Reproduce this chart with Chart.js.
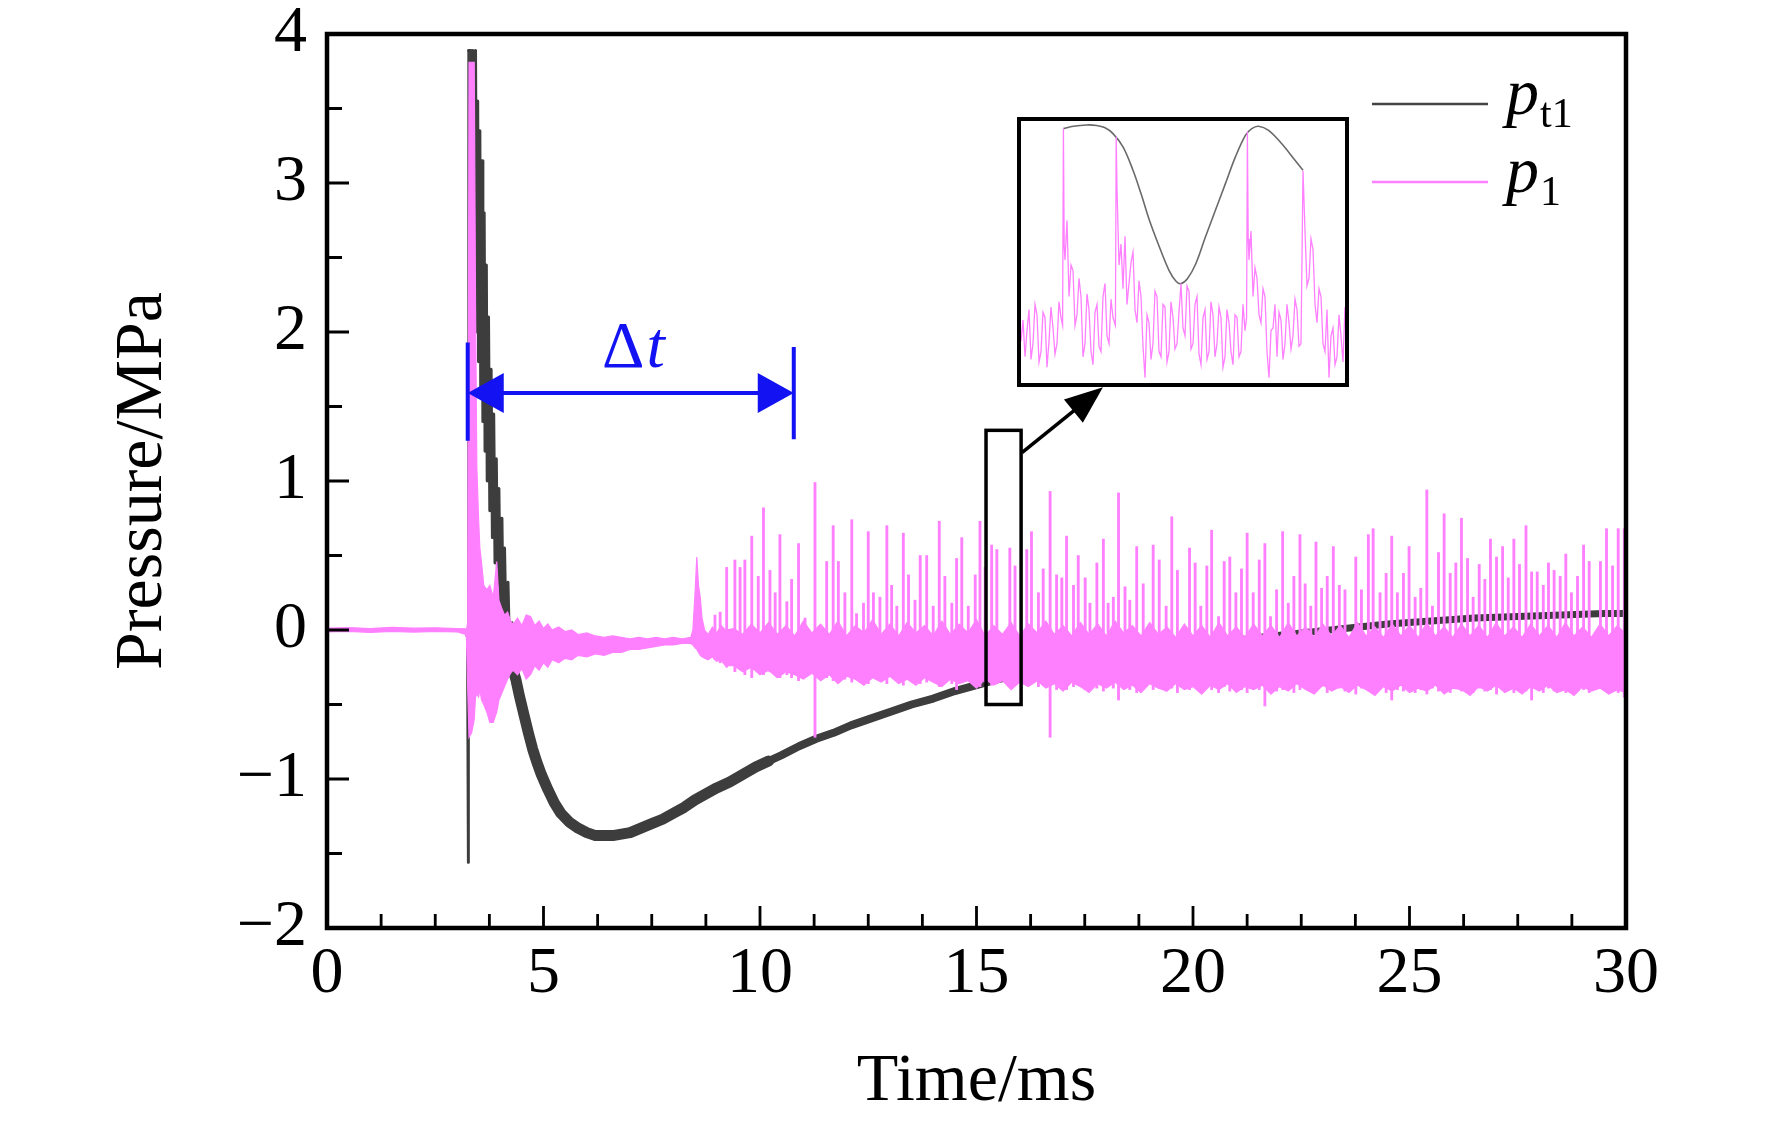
<!DOCTYPE html>
<html>
<head>
<meta charset="utf-8">
<title>Pressure vs time</title>
<script src="https://cdn.jsdelivr.net/npm/chart.js@4.4.1/dist/chart.umd.min.js"></script>
<style>
  html, body { margin: 0; padding: 0; background: #fff; }
  #wrap { position: relative; width: 1772px; height: 1125px; }
  #main { position: absolute; left: 0; top: 0; width: 1772px; height: 1125px; }
  #inset { position: absolute; left: 1017px; top: 117px; width: 332px; height: 270px; }
</style>
</head>
<body>
<div id="wrap">
  <canvas id="main" width="1772" height="1125"></canvas>
  <canvas id="inset" width="332" height="270"></canvas>
</div>
<script>
const xTicks = [0, 5, 10, 15, 20, 25, 30];
const yTicks = [-2, -1, 0, 1, 2, 3, 4];

// p_t1 (black trace)
const pt1Time = [
  0, 1.5, 3, 3.2, 3.24, 3.26, 3.27, 3.32, 3.34, 3.37,
  3.4, 3.43, 3.46, 3.48, 3.5, 3.53, 3.55, 3.58, 3.6, 3.63,
  3.65, 3.68, 3.7, 3.73, 3.76, 3.79, 3.82, 3.85, 3.88, 3.91,
  3.94, 3.97, 4, 4.04, 4.07, 4.1, 4.14, 4.18, 4.22, 4.27,
  4.31, 4.36, 4.45, 4.55, 4.65, 4.75, 4.85, 4.95, 5.1, 5.25,
  5.4, 5.6, 5.8, 6, 6.2, 6.4, 6.6, 6.8, 7, 7.25,
  7.5, 7.75, 8, 8.25, 8.5, 8.75, 9, 9.3, 9.6, 9.9,
  10.2, 10.5, 10.9, 11.3, 11.7, 12.1, 12.5, 13, 13.5, 14,
  14.5, 15, 15.5, 16, 16.5, 17, 18, 19, 19.5, 20.5,
  21.5, 22.5, 23.5, 24.5, 25.5, 26.5, 27.5, 28.5, 29.5, 30
];
const pt1Value = [
  0, 0, 0, -0.01, -0.05, -1.56, 3.89, 3.89, 2.3, 3.89,
  2.2, 3.89, 2.0, 3.55, 1.8, 3.35, 1.6, 3.15, 1.4, 2.8,
  1.2, 2.45, 1.0, 2.1, 0.8, 1.75, 0.62, 1.45, 0.45, 1.15,
  0.3, 0.95, 0.15, 0.75, 0, 0.55, -0.1, 0.32, -0.2, 0.05,
  -0.28, -0.33, -0.45, -0.57, -0.69, -0.8, -0.89, -0.97, -1.07, -1.16,
  -1.23, -1.29, -1.33, -1.36, -1.38, -1.38, -1.38, -1.37, -1.36, -1.33,
  -1.3, -1.27, -1.23, -1.19, -1.14, -1.1, -1.06, -1.02, -0.97, -0.92,
  -0.88, -0.84, -0.78, -0.73, -0.69, -0.64, -0.6, -0.55, -0.5, -0.46,
  -0.41, -0.37, -0.33, -0.3, -0.28, -0.25, -0.2, -0.15, -0.13, -0.09,
  -0.05, -0.02, 0.01, 0.04, 0.06, 0.08, 0.09, 0.1, 0.11, 0.11
];

// p_1 (pink trace): upper and lower edge of the noise band
const p1Time = [
  0, 0.5, 1, 1.5, 2, 2.5, 3, 3.2,
  3.22, 3.25, 3.28, 3.34, 3.4, 3.43, 3.46, 3.5, 3.53, 3.57, 3.62, 3.69, 3.76, 3.84, 3.92, 3.97, 4.03, 4.1, 4.17, 4.24, 4.3,
  4.4, 4.5, 4.6, 4.7, 4.8, 4.9, 5, 5.1, 5.2, 5.35, 5.5, 5.65, 5.8, 6, 6.2, 6.4, 6.6, 6.8, 7, 7.2, 7.4, 7.6, 7.8, 8, 8.2, 8.4,
  8.45, 8.5, 8.54, 8.58, 8.62, 8.66, 8.72, 8.8, 8.9, 9, 9.1, 9.2,
  9.4, 9.6, 9.8, 10, 10.2, 10.4, 10.6, 10.8, 11, 11.2,
  11.4, 11.6, 11.8, 12, 12.2, 12.4, 12.6, 12.8, 13, 13.2,
  13.4, 13.6, 13.8, 14, 14.2, 14.4, 14.6, 14.8, 15, 15.2,
  15.4, 15.6, 15.8, 16, 16.2, 16.4, 16.6, 16.8, 17, 17.2,
  17.4, 17.6, 17.8, 18, 18.2, 18.4, 18.6, 18.8, 19, 19.2,
  19.4, 19.6, 19.8, 20, 20.2, 20.4, 20.6, 20.8, 21, 21.2,
  21.4, 21.6, 21.8, 22, 22.2, 22.4, 22.6, 22.8, 23, 23.2,
  23.4, 23.6, 23.8, 24, 24.2, 24.4, 24.6, 24.8, 25, 25.2,
  25.4, 25.6, 25.8, 26, 26.2, 26.4, 26.6, 26.8, 27, 27.2,
  27.4, 27.6, 27.8, 28, 28.2, 28.4, 28.6, 28.8, 29, 29.2,
  29.4, 29.6, 29.8, 30
];
const p1High = [
  0.012, 0.016, 0.01, 0.018, 0.012, 0.015, 0.01, 0.008,
  0, 0.05, 3.81, 3.81, 3.81, 2.2, 1.1, 0.75, 0.55, 0.45, 0.3, 0.27, 0.3, 0.22, 0.46, 0.2, 0.15, 0.1, 0.12, 0.06, 0.04,
  0.08, 0.03, 0.1, 0.09, 0.03, 0.06, 0.01, 0.04, 0, 0.02, -0.01, 0, -0.03, -0.02, -0.04, -0.05, -0.04, -0.05, -0.06, -0.05, -0.06, -0.05, -0.06, -0.05, -0.06, -0.05,
  0, 0.25, 0.49, 0.3, 0.22, 0.08, 0, -0.03, 0.02, -0.02, 0.03, 0,
  0.01, -0.03, 0.04, -0.02, 0.05, -0.03, 0.03, -0.04, 0.06, -0.02,
  0.04, -0.03, 0.06, -0.04, 0.03, -0.02, 0.07, -0.03, 0.04, -0.04,
  0.05, -0.02, 0.03, -0.04, 0.06, -0.03, 0.04, -0.02, 0.07, -0.04,
  0.03, -0.03, 0.05, -0.04, 0.04, -0.02, 0.06, -0.03, 0.03, -0.04,
  0.05, -0.03, 0.04, -0.04, 0.06, -0.02, 0.03, -0.04, 0.05, -0.03,
  0.02, -0.05, 0.04, -0.04, 0.03, -0.05, 0.05, -0.04, 0.02, -0.05,
  0.04, -0.04, 0.03, -0.05, 0.05, -0.04, 0.02, -0.05, 0.04, -0.04,
  0.03, -0.05, 0.05, -0.04, 0.02, -0.05, 0.04, -0.04, 0.03, -0.05,
  0.05, -0.04, 0.02, -0.05, 0.04, -0.04, 0.03, -0.05, 0.05, -0.04,
  0.02, -0.05, 0.04, -0.04, 0.03, -0.05, 0.05, -0.04, 0.02, -0.05,
  0.04, -0.04, 0.03, -0.03
];
const p1Low = [
  -0.012, -0.01, -0.016, -0.01, -0.014, -0.01, -0.012, -0.03,
  -0.05, -0.4, -0.72, -0.69, -0.6, -0.45, -0.43, -0.45, -0.4, -0.47, -0.5, -0.55, -0.62, -0.62, -0.55, -0.47, -0.43, -0.38, -0.33, -0.29, -0.27,
  -0.3, -0.26, -0.33, -0.3, -0.24, -0.27, -0.22, -0.25, -0.2, -0.22, -0.19, -0.2, -0.17, -0.18, -0.16, -0.17, -0.15, -0.15, -0.13, -0.13, -0.12, -0.11, -0.1, -0.1, -0.09, -0.09,
  -0.1, -0.12, -0.13, -0.15, -0.17, -0.18, -0.19, -0.2, -0.18, -0.21, -0.2, -0.24,
  -0.24, -0.28, -0.25, -0.3, -0.27, -0.32, -0.28, -0.3, -0.33, -0.29,
  -0.34, -0.3, -0.36, -0.31, -0.33, -0.37, -0.32, -0.35, -0.31, -0.36,
  -0.33, -0.37, -0.32, -0.35, -0.38, -0.33, -0.36, -0.34, -0.39, -0.33,
  -0.37, -0.34, -0.4, -0.35, -0.38, -0.34, -0.39, -0.36, -0.41, -0.35,
  -0.38, -0.42, -0.36, -0.39, -0.35, -0.4, -0.37, -0.42, -0.36, -0.39,
  -0.41, -0.36, -0.4, -0.38, -0.43, -0.37, -0.4, -0.36, -0.42, -0.38,
  -0.4, -0.37, -0.43, -0.38, -0.41, -0.36, -0.4, -0.43, -0.37, -0.41,
  -0.38, -0.42, -0.37, -0.4, -0.44, -0.38, -0.41, -0.37, -0.42, -0.39,
  -0.41, -0.37, -0.43, -0.39, -0.4, -0.44, -0.38, -0.41, -0.37, -0.42,
  -0.39, -0.43, -0.38, -0.41, -0.37, -0.42, -0.4, -0.44, -0.38, -0.41,
  -0.39, -0.43, -0.4, -0.42
];

// p_1 spikes: time, peak and trough of each burst
const spikeTime = [
  8.96, 9.08, 9.23, 9.42, 9.54, 9.65, 9.81, 9.96, 10.08, 10.23, 10.35, 10.46, 10.62, 10.73, 10.89, 11.04,
  11.27, 11.54, 11.69, 11.81, 11.96, 12.12, 12.23, 12.39, 12.5, 12.62, 12.77, 12.93, 13.04, 13.16,
  13.31, 13.43, 13.58, 13.7, 13.85, 14, 14.14, 14.27, 14.43, 14.54, 14.66, 14.81, 14.97, 15.08, 15.2,
  15.35, 15.47, 15.77, 15.89, 16.16, 16.27, 16.43, 16.54, 16.7, 16.85, 16.97, 17.08,
  17.24, 17.35, 17.51, 17.62, 17.78, 17.93, 18.04, 18.16, 18.28, 18.43, 18.54, 18.7, 18.85,
  19.08, 19.22, 19.38, 19.51, 19.64, 19.92, 20.05, 20.18, 20.32, 20.43, 20.59, 20.72, 20.85,
  20.99, 21.12, 21.25, 21.39, 21.53, 21.66, 21.79, 21.93, 22.07, 22.2, 22.33, 22.47, 22.59, 22.72,
  22.84, 22.97, 23.1, 23.24, 23.38, 23.51, 23.76, 23.89, 24.05, 24.16, 24.32, 24.46, 24.59,
  24.72, 24.86, 24.99, 25.13, 25.26, 25.4, 25.53, 25.67, 25.8, 25.94, 26.07, 26.2, 26.34,
  26.47, 26.61, 26.74, 26.87, 27.01, 27.15, 27.28, 27.41, 27.54, 27.69, 27.82, 27.95, 28.09,
  28.21, 28.34, 28.48, 28.61, 28.74, 28.88, 29.02, 29.15, 29.41, 29.55, 29.69, 29.82, 29.96
];
const spikeTop = [
  0.1, 0.12, 0.42, 0.47, 0.42, 0.47, 0.63, 0.36, 0.82, 0.4, 0.25, 0.64, 0.19, 0.34, 0.58, 0.08,
  0.99, 0.46, 0.7, 0.46, 0.25, 0.74, 0.11, 0.18, 0.66, 0.25, 0.22, 0.7, 0.3, 0.16,
  0.65, 0.37, 0.2, 0.5, 0.5, 0.16, 0.73, 0.36, 0.18, 0.48, 0.62, 0.16, 0.37, 0.73, 0.42,
  0.57, 0.54, 0.55, 0.43, 0.54, 0.66, 0.25, 0.41, 0.93, 0.37, 0.35, 0.63,
  0.3, 0.5, 0.35, 0.18, 0.45, 0.61, 0.18, 0.22, 0.92, 0.29, 0.2, 0.56, 0.31,
  0.57, 0.47, 0.16, 0.76, 0.4, 0.55, 0.45, 0.16, 0.43, 0.67, 0.09, 0.46, 0.49,
  0.25, 0.41, 0.65, 0.25, 0.47, 0.58, 0.09, 0.27, 0.66, 0.18, 0.36, 0.64, 0.31, 0.16,
  0.59, 0.28, 0.36, 0.56, 0.3, 0.27, 0.49, 0.27, 0.64, 0.68, 0.25, 0.38, 0.63,
  0.25, 0.38, 0.56, 0.22, 0.28, 0.94, 0.16, 0.52, 0.78, 0.38, 0.45, 0.75, 0.48,
  0.22, 0.44, 0.34, 0.61, 0.49, 0.56, 0.35, 0.61, 0.44, 0.7, 0.39, 0.39, 0.3,
  0.45, 0.4, 0.36, 0.51, 0.25, 0.36, 0.57, 0.46, 0.46, 0.68, 0.43, 0.68, 0.68
];
const spikeLow = [
  -0.2, -0.22, -0.25, -0.28, -0.25, -0.3, -0.32, -0.28, -0.3, -0.28, -0.3, -0.32, -0.3, -0.32, -0.34, -0.3,
  -0.72, -0.32, -0.34, -0.3, -0.33, -0.35, -0.3, -0.32, -0.36, -0.3, -0.34, -0.36, -0.31, -0.33,
  -0.37, -0.32, -0.34, -0.36, -0.35, -0.33, -0.38, -0.34, -0.36, -0.4, -0.35, -0.33, -0.36, -0.38, -0.35,
  -0.37, -0.36, -0.38, -0.36, -0.37, -0.35, -0.38, -0.36, -0.72, -0.4, -0.37, -0.4,
  -0.38, -0.36, -0.4, -0.37, -0.39, -0.41, -0.37, -0.39, -0.47, -0.38, -0.4, -0.42, -0.38,
  -0.4, -0.38, -0.41, -0.39, -0.42, -0.4, -0.38, -0.41, -0.39, -0.4, -0.42, -0.38, -0.41,
  -0.39, -0.4, -0.42, -0.38, -0.4, -0.51, -0.39, -0.41, -0.4, -0.38, -0.42, -0.4, -0.39, -0.41,
  -0.4, -0.38, -0.42, -0.4, -0.39, -0.41, -0.43, -0.39, -0.41, -0.4, -0.38, -0.42, -0.47,
  -0.4, -0.41, -0.39, -0.42, -0.4, -0.43, -0.39, -0.41, -0.4, -0.42, -0.39, -0.41, -0.4,
  -0.42, -0.39, -0.41, -0.4, -0.43, -0.4, -0.39, -0.42, -0.4, -0.41, -0.47, -0.4, -0.42,
  -0.39, -0.41, -0.4, -0.42, -0.39, -0.41, -0.4, -0.42, -0.39, -0.41, -0.4, -0.42, -0.45
];

// inset: magnified window 15.33-16.14 ms (relative units)
const insetP1Time = [
  15.33, 15.335, 15.34, 15.345, 15.35, 15.355, 15.36, 15.365, 15.37, 15.375,
  15.38, 15.385, 15.39, 15.395, 15.4, 15.405, 15.41, 15.415, 15.42, 15.425,
  15.43, 15.434, 15.436, 15.438, 15.44, 15.445, 15.45, 15.455, 15.46, 15.465,
  15.47, 15.475, 15.48, 15.485, 15.49, 15.495, 15.5, 15.505, 15.51, 15.515,
  15.52, 15.525, 15.53, 15.535, 15.54, 15.545, 15.55, 15.555, 15.56, 15.566,
  15.568, 15.57, 15.575, 15.58, 15.585, 15.59, 15.595, 15.6, 15.605, 15.61,
  15.615, 15.62, 15.625, 15.63, 15.635, 15.64, 15.645, 15.65, 15.655, 15.66,
  15.665, 15.67, 15.675, 15.68, 15.685, 15.69, 15.695, 15.7, 15.705, 15.71,
  15.715, 15.72, 15.725, 15.73, 15.735, 15.74, 15.745, 15.75, 15.755, 15.76,
  15.765, 15.77, 15.775, 15.78, 15.785, 15.79, 15.795, 15.8, 15.805, 15.81,
  15.815, 15.82, 15.825, 15.83, 15.835, 15.84, 15.845, 15.85, 15.855, 15.86,
  15.865, 15.87, 15.875, 15.88, 15.885, 15.89, 15.894, 15.896, 15.898, 15.9,
  15.905, 15.91, 15.915, 15.92, 15.925, 15.93, 15.935, 15.94, 15.945, 15.95,
  15.955, 15.96, 15.965, 15.97, 15.975, 15.98, 15.985, 15.99, 15.995, 16,
  16.005, 16.01, 16.015, 16.02, 16.025, 16.03, 16.035, 16.04, 16.045, 16.05,
  16.055, 16.06, 16.065, 16.07, 16.075, 16.08, 16.085, 16.09, 16.095, 16.1,
  16.105, 16.11, 16.115, 16.12, 16.125, 16.13, 16.135, 16.14
];
const insetP1 = [
  0.16, 0.24, 0.1, 0.2, 0.28, 0.09, 0.15, 0.3, 0.26, 0.08,
  0.12, 0.27, 0.25, 0.06, 0.16, 0.29, 0.21, 0.11, 0.15, 0.31,
  0.25, 0.22, 0.97, 0.52, 0.47, 0.62, 0.33, 0.45, 0.43, 0.22,
  0.26, 0.4, 0.33, 0.1, 0.15, 0.34, 0.28, 0.12, 0.07, 0.27,
  0.3, 0.14, 0.12, 0.33, 0.38, 0.18, 0.15, 0.32, 0.25, 0.22,
  0.94, 0.74, 0.45, 0.53, 0.36, 0.56, 0.3, 0.38, 0.46, 0.5,
  0.28, 0.23, 0.39, 0.33, 0.14, 0.02, 0.26, 0.23, 0.09, 0.15,
  0.35, 0.33, 0.12, 0.1, 0.3, 0.29, 0.08, 0.12, 0.31, 0.25,
  0.13, 0.15, 0.27, 0.38, 0.21, 0.18, 0.37, 0.35, 0.13, 0.15,
  0.3, 0.33, 0.11, 0.07, 0.25, 0.28, 0.09, 0.12, 0.31, 0.26,
  0.1, 0.15, 0.29, 0.25, 0.06, 0.1, 0.28, 0.23, 0.12, 0.07,
  0.26, 0.25, 0.1, 0.12, 0.3, 0.2, 0.25, 0.96, 0.55, 0.47,
  0.58, 0.33, 0.44, 0.4, 0.26, 0.23, 0.36, 0.33, 0.12, 0.02,
  0.2, 0.21, 0.3, 0.1, 0.27, 0.24, 0.09, 0.15, 0.3, 0.23,
  0.13, 0.18, 0.32, 0.28, 0.14, 0.15, 0.81, 0.58, 0.37, 0.4,
  0.55, 0.51, 0.3, 0.23, 0.36, 0.33, 0.15, 0.12, 0.28, 0.02,
  0.18, 0.21, 0.07, 0.1, 0.26, 0.18, 0.08, 0.29
];
const insetPt1Time = [
  15.436, 15.461, 15.494, 15.519, 15.539, 15.56, 15.585, 15.61, 15.63, 15.651, 15.676, 15.7, 15.717, 15.729,
  15.746, 15.767, 15.791, 15.816, 15.841, 15.866, 15.891, 15.907, 15.924, 15.949, 15.982, 16.015, 16.035
];
const insetPt1 = [
  0.971, 0.98, 0.985, 0.983, 0.975, 0.952, 0.901, 0.812, 0.723, 0.621, 0.519, 0.43, 0.389, 0.379,
  0.398, 0.455, 0.557, 0.659, 0.761, 0.863, 0.945, 0.971, 0.98, 0.964, 0.913, 0.85, 0.812
];

// annotation anchors, in data units
const deltaStart = 3.25, deltaEnd = 10.78, deltaArrowY = 1.59;
const deltaBarLeft = [1.27, 1.93], deltaBarRight = [1.28, 1.9];
const deltaLabelAt = [6.35, 1.765];
const zoomBox = { x0: 15.22, x1: 16.03, y0: -0.5, y1: 1.34 };
const zoomArrow = { x0: 16.05, y0: 1.19, x1: 17.92, y1: 1.63 };

const FONT = "'Liberation Serif', 'Times New Roman', serif";
const PINK = "#ff80ff";
const DARK = "#3d3d3d";
const BLUE = "#1212f2";

Chart.defaults.font.family = FONT;

const toPoints = (xs, ys) => xs.map((x, i) => ({ x: x, y: ys[i] }));

function arrowHead(ctx, tx, ty, fx, fy, len, half) {
  const a = Math.atan2(ty - fy, tx - fx);
  ctx.beginPath();
  ctx.moveTo(tx, ty);
  ctx.lineTo(tx - len * Math.cos(a) + half * Math.sin(a), ty - len * Math.sin(a) - half * Math.cos(a));
  ctx.lineTo(tx - len * Math.cos(a) - half * Math.sin(a), ty - len * Math.sin(a) + half * Math.cos(a));
  ctx.closePath();
  ctx.fill();
}

const frameAndNotes = {
  id: "frameAndNotes",
  afterDatasetsDraw(chart) {
    const { ctx, chartArea: a, scales: { x, y } } = chart;
    ctx.save();

    // inward ticks
    ctx.strokeStyle = "#000";
    ctx.lineWidth = 2.8;
    ctx.beginPath();
    for (let v = -2; v <= 4; v += 0.5) {
      const py = y.getPixelForValue(v);
      ctx.moveTo(a.left, py);
      ctx.lineTo(a.left + (Number.isInteger(v) ? 22 : 15), py);
    }
    for (let v = 0; v <= 30; v += 1.25) {
      const px = x.getPixelForValue(v);
      ctx.moveTo(px, a.bottom);
      ctx.lineTo(px, a.bottom - (v % 5 === 0 ? 22 : 14));
    }
    ctx.stroke();
    ctx.lineWidth = 4.5;
    ctx.strokeRect(a.left, a.top, a.right - a.left, a.bottom - a.top);

    // delta t marker
    ctx.strokeStyle = BLUE;
    ctx.fillStyle = BLUE;
    ctx.lineWidth = 4;
    const xs = x.getPixelForValue(deltaStart), xe = x.getPixelForValue(deltaEnd);
    const ya = y.getPixelForValue(deltaArrowY);
    ctx.beginPath();
    ctx.moveTo(xs, y.getPixelForValue(deltaBarLeft[0]));
    ctx.lineTo(xs, y.getPixelForValue(deltaBarLeft[1]));
    ctx.moveTo(xe, y.getPixelForValue(deltaBarRight[0]));
    ctx.lineTo(xe, y.getPixelForValue(deltaBarRight[1]));
    ctx.moveTo(xs + 20, ya);
    ctx.lineTo(xe - 20, ya);
    ctx.stroke();
    arrowHead(ctx, xs, ya, xe, ya, 36, 20);
    arrowHead(ctx, xe, ya, xs, ya, 36, 20);
    ctx.textBaseline = "alphabetic";
    ctx.textAlign = "left";
    const lx = x.getPixelForValue(deltaLabelAt[0]), ly = y.getPixelForValue(deltaLabelAt[1]);
    ctx.font = "66px " + FONT;
    ctx.fillText("\u0394", lx, ly);
    const dw = ctx.measureText("\u0394").width;
    ctx.font = "italic 66px " + FONT;
    ctx.fillText("t", lx + dw + 2, ly);

    // zoom window and arrow to inset
    ctx.strokeStyle = "#000";
    ctx.fillStyle = "#000";
    ctx.lineWidth = 3.5;
    const bx0 = x.getPixelForValue(zoomBox.x0), bx1 = x.getPixelForValue(zoomBox.x1);
    const by0 = y.getPixelForValue(zoomBox.y1), by1 = y.getPixelForValue(zoomBox.y0);
    ctx.strokeRect(bx0, by0, bx1 - bx0, by1 - by0);
    const ax0 = x.getPixelForValue(zoomArrow.x0), ay0 = y.getPixelForValue(zoomArrow.y0);
    const ax1 = x.getPixelForValue(zoomArrow.x1), ay1 = y.getPixelForValue(zoomArrow.y1);
    ctx.beginPath();
    ctx.moveTo(ax0, ay0);
    ctx.lineTo(ax1 - (ax1 - ax0) * 0.3, ay1 - (ay1 - ay0) * 0.3);
    ctx.stroke();
    arrowHead(ctx, ax1, ay1, ax0, ay0, 38, 15);

    // legend
    const rows = [
      { color: "#444", sub: "t1", y: a.top + 70 },
      { color: PINK, sub: "1", y: a.top + 148 }
    ];
    rows.forEach(r => {
      ctx.strokeStyle = r.color;
      ctx.lineWidth = 2.5;
      ctx.beginPath();
      ctx.moveTo(a.right - 254, r.y);
      ctx.lineTo(a.right - 138, r.y);
      ctx.stroke();
      ctx.fillStyle = "#000";
      ctx.font = "italic 66px " + FONT;
      ctx.fillText("p", a.right - 120, r.y + 10);
      const pw = ctx.measureText("p").width;
      ctx.font = "42px " + FONT;
      ctx.fillText(r.sub, a.right - 120 + pw + 1, r.y + 23);
    });
    ctx.restore();
  }
};

new Chart(document.getElementById("main").getContext("2d"), {
  type: "line",
  data: {
    datasets: [
      {
        type: "bar",
        label: "p1 spikes",
        data: spikeTime.map((t, i) => ({ x: t, y: [spikeLow[i], spikeTop[i]] })),
        backgroundColor: PINK,
        barThickness: 2.2,
        borderWidth: 0
      },
      {
        label: "p1",
        data: toPoints(p1Time, p1High),
        borderColor: PINK,
        backgroundColor: PINK,
        borderWidth: 1.2,
        pointRadius: 0,
        fill: "+1"
      },
      {
        label: "p1 lower",
        data: toPoints(p1Time, p1Low),
        borderColor: PINK,
        borderWidth: 1.2,
        pointRadius: 0,
        fill: false
      },
      {
        label: "pt1",
        data: toPoints(pt1Time, pt1Value),
        borderColor: DARK,
        borderWidth: 6,
        borderJoinStyle: "round",
        borderCapStyle: "round",
        pointRadius: 0,
        fill: false,
        segment: {
          borderWidth: c => {
            const t = c.p0.parsed.x;
            if (t < 3.265) return 2.5;
            if (t < 4.3) return 3;
            if (t < 10) return 11;
            if (t < 16) return 8;
            return 7;
          }
        }
      }
    ]
  },
  options: {
    responsive: false,
    animation: false,
    events: [],
    layout: { padding: { top: 34, right: 146, left: 0, bottom: 0 } },
    plugins: { legend: { display: false }, tooltip: { enabled: false } },
    scales: {
      x: {
        type: "linear",
        min: 0,
        max: 30,
        offset: false,
        afterBuildTicks: s => { s.ticks = xTicks.map(v => ({ value: v })); },
        afterFit: s => { s.height = 197; s.paddingLeft = 0; s.paddingRight = 0; },
        grid: { display: false, drawTicks: false },
        border: { display: false },
        ticks: {
          color: "#000",
          font: { family: FONT, size: 66 },
          padding: 7,
          maxRotation: 0,
          autoSkip: false,
          callback: v => String(v)
        },
        title: {
          display: true,
          text: "Time/ms",
          color: "#000",
          font: { family: FONT, size: 68 },
          padding: { top: 0, bottom: 2 }
        }
      },
      y: {
        type: "linear",
        min: -2,
        max: 4,
        afterBuildTicks: s => { s.ticks = yTicks.map(v => ({ value: v })); },
        afterFit: s => { s.width = 327; s.paddingTop = 0; s.paddingBottom = 0; },
        grid: { display: false, drawTicks: false },
        border: { display: false },
        ticks: {
          color: "#000",
          font: { family: FONT, size: 66 },
          padding: 20,
          autoSkip: false,
          callback: v => (v < 0 ? "\u2212" + Math.abs(v) : String(v))
        },
        title: {
          display: true,
          text: "Pressure/MPa",
          color: "#000",
          font: { family: FONT, size: 68 },
          padding: { top: 102, bottom: 0 }
        }
      }
    }
  },
  plugins: [frameAndNotes]
});

const insetFrame = {
  id: "insetFrame",
  afterDraw(chart) {
    const c = chart.ctx;
    c.save();
    c.strokeStyle = "#000";
    c.lineWidth = 4;
    c.strokeRect(2, 2, chart.width - 4, chart.height - 4);
    c.restore();
  }
};

new Chart(document.getElementById("inset").getContext("2d"), {
  type: "line",
  data: {
    datasets: [
      {
        label: "p1",
        data: toPoints(insetP1Time, insetP1),
        borderColor: PINK,
        borderWidth: 1.3,
        pointRadius: 0
      },
      {
        label: "pt1",
        data: toPoints(insetPt1Time, insetPt1),
        borderColor: "#6a6a6a",
        borderWidth: 1.6,
        pointRadius: 0,
        tension: 0.35
      }
    ]
  },
  options: {
    responsive: false,
    animation: false,
    events: [],
    layout: { padding: 4 },
    plugins: { legend: { display: false }, tooltip: { enabled: false } },
    scales: {
      x: { type: "linear", min: 15.33, max: 16.14, display: false },
      y: { min: 0, max: 1, display: false }
    }
  },
  plugins: [insetFrame]
});
</script>
</body>
</html>
